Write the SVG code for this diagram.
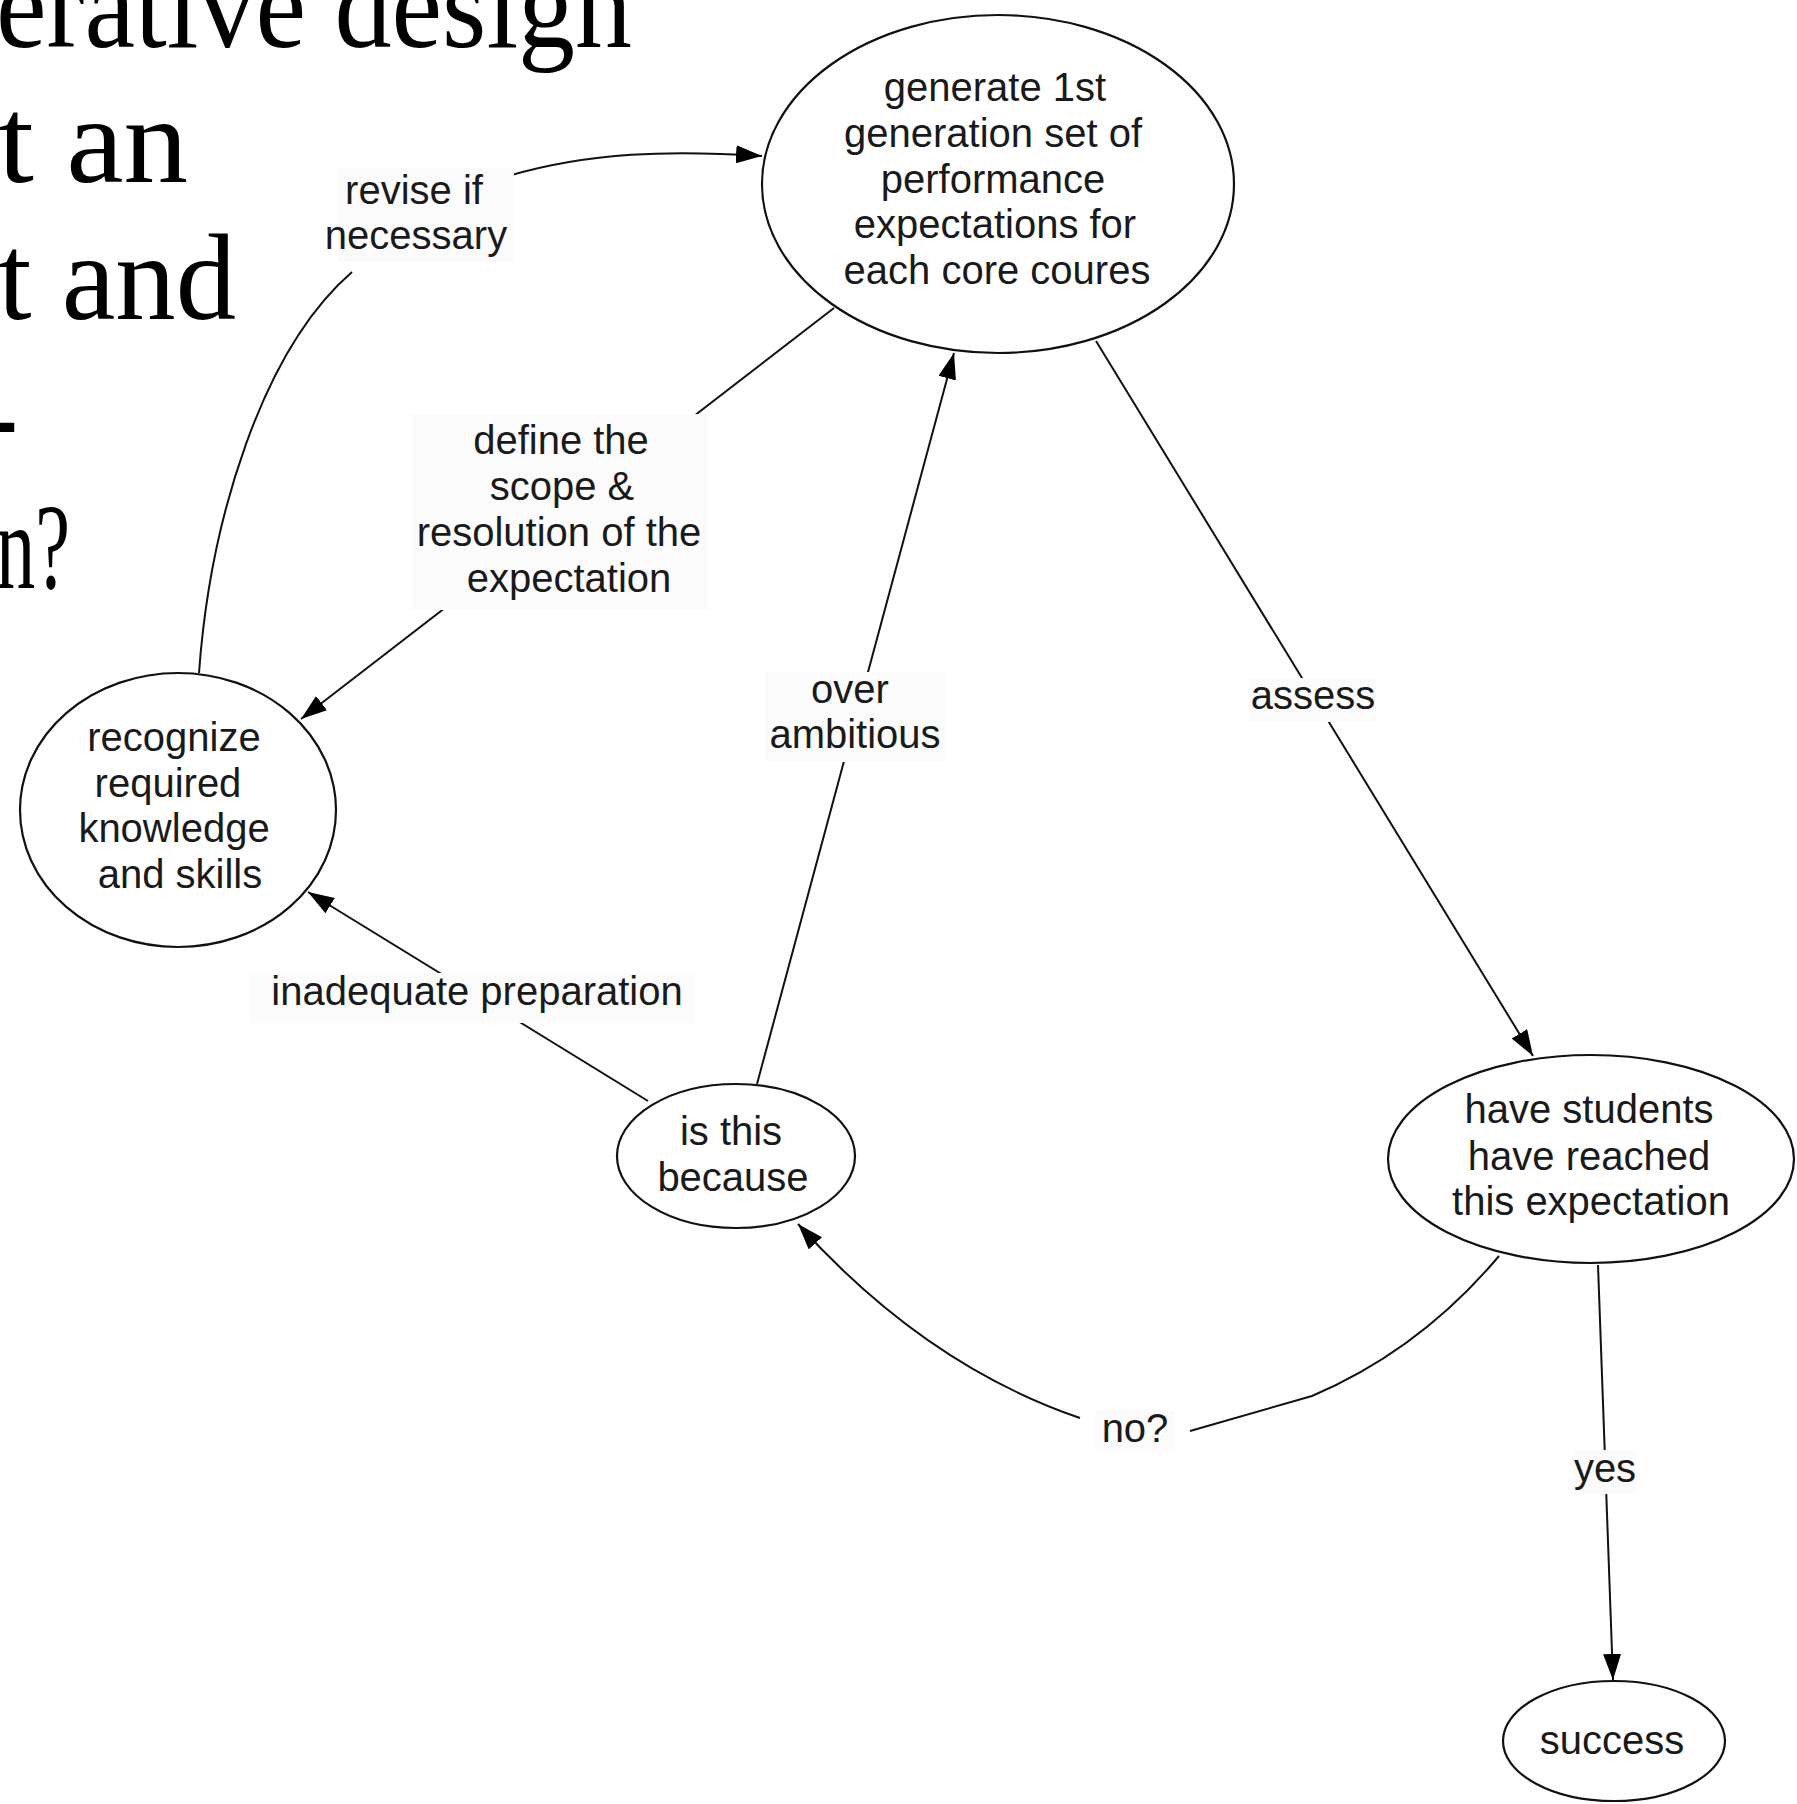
<svg xmlns="http://www.w3.org/2000/svg" width="1797" height="1804" viewBox="0 0 1797 1804">
  <style>
    .title { font-family: "Liberation Serif", "DejaVu Serif", serif; font-size: 122px; fill: #000; }
    .node ellipse { fill: #fff; stroke: #111; stroke-width: 2.2; }
    .node text, .lbl text { font-family: "Liberation Sans", Arial, sans-serif; font-size: 40px; fill: #1a1a1a; text-anchor: middle; }
    .edge { fill: none; stroke: #111; stroke-width: 2; }
    .lbl rect { fill: #fbfbfb; stroke: none; }
  </style>
  <defs>
    <marker id="arrow" markerUnits="userSpaceOnUse" markerWidth="26" markerHeight="18" viewBox="0 0 26 18" refX="26" refY="9" orient="auto">
      <path d="M0,0 L26,9 L0,18 Z" fill="#000"/>
    </marker>
  </defs>
  <rect width="1797" height="1804" fill="#fff"/>

  <!-- heading text, clipped at the left edge -->
  <g id="heading">
    <text class="title" x="-4" y="47" textLength="636" lengthAdjust="spacingAndGlyphs">erative design</text>
    <text class="title" x="-2" y="182" textLength="190" lengthAdjust="spacingAndGlyphs">t an</text>
    <text class="title" x="-2" y="319" textLength="238" lengthAdjust="spacingAndGlyphs">t and</text>
    <text class="title" x="-22" y="456">-</text>
    <text class="title" x="-4" y="588" textLength="74" lengthAdjust="spacingAndGlyphs">n?</text>
  </g>

  <!-- connectors with their labels -->
  <g id="connectors">
    <!-- revise if necessary -->
    <path class="edge" d="M199,673 C210,520 262,350 352,272 M508,176 C590,152 670,150 762,156" marker-end="url(#arrow)"/>
    <!-- define the scope & resolution -->
    <path class="edge" d="M834,308 L301,719" marker-end="url(#arrow)"/>
    <!-- over ambitious -->
    <path class="edge" d="M757,1084 L954,353" marker-end="url(#arrow)"/>
    <!-- assess -->
    <path class="edge" d="M1096,341 L1533,1056" marker-end="url(#arrow)"/>
    <!-- inadequate preparation -->
    <path class="edge" d="M648,1101 L308,892" marker-end="url(#arrow)"/>
    <!-- no? -->
    <path class="edge" d="M1499,1256 Q1420,1350 1312,1396 L1190,1431 M1080,1418 Q925,1365 798,1224" marker-end="url(#arrow)"/>
    <!-- yes -->
    <path class="edge" d="M1598,1265 L1613,1680" marker-end="url(#arrow)"/>

    <g class="lbl">
      <rect x="338" y="168" width="176" height="94"/>
      <text x="414" y="204">revise if</text>
      <text x="416" y="249">necessary</text>
    </g>
    <g class="lbl">
      <rect x="412" y="414" width="296" height="196"/>
      <text x="561" y="454">define the</text>
      <text x="562" y="500">scope &amp;</text>
      <text x="559" y="546">resolution of the</text>
      <text x="569" y="592">expectation</text>
    </g>
    <g class="lbl">
      <rect x="765" y="672" width="180" height="90"/>
      <text x="850" y="703">over</text>
      <text x="855" y="748">ambitious</text>
    </g>
    <g class="lbl">
      <rect x="1250" y="678" width="126" height="44"/>
      <text x="1313" y="709">assess</text>
    </g>
    <g class="lbl">
      <rect x="250" y="973" width="445" height="50"/>
      <text x="477" y="1005">inadequate preparation</text>
    </g>
    <g class="lbl">
      <rect x="1095" y="1410" width="80" height="42"/>
      <text x="1135" y="1442">no?</text>
    </g>
    <g class="lbl">
      <rect x="1574" y="1450" width="62" height="44"/>
      <text x="1605" y="1482">yes</text>
    </g>
  </g>

  <!-- nodes -->
  <g id="generate" class="node">
    <ellipse cx="998" cy="184" rx="236" ry="169"/>
    <text x="995" y="101">generate 1st</text>
    <text x="993" y="147">generation set of</text>
    <text x="993" y="193">performance</text>
    <text x="995" y="238">expectations for</text>
    <text x="997" y="284">each core coures</text>
  </g>
  <g id="recognize" class="node">
    <ellipse cx="178" cy="810" rx="158" ry="137"/>
    <text x="174" y="751">recognize</text>
    <text x="168" y="797">required</text>
    <text x="174" y="842">knowledge</text>
    <text x="180" y="888">and skills</text>
  </g>
  <g id="because" class="node">
    <ellipse cx="736" cy="1156" rx="119" ry="72"/>
    <text x="731" y="1145">is this</text>
    <text x="733" y="1191">because</text>
  </g>
  <g id="reached" class="node">
    <ellipse cx="1591" cy="1159" rx="203" ry="104"/>
    <text x="1589" y="1123">have students</text>
    <text x="1589" y="1170">have reached</text>
    <text x="1591" y="1215">this expectation</text>
  </g>
  <g id="success" class="node">
    <ellipse cx="1614" cy="1741" rx="111" ry="60"/>
    <text x="1612" y="1754">success</text>
  </g>
</svg>
